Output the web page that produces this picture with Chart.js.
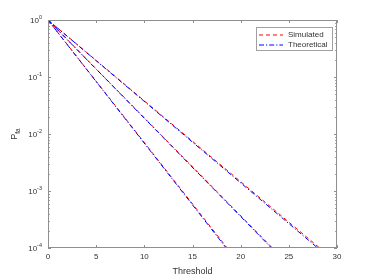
<!DOCTYPE html>
<html>
<head>
<meta charset="utf-8">
<script src="https://cdn.jsdelivr.net/npm/chart.js@4.4.0/dist/chart.umd.min.js"></script>
<style>
  html, body { margin: 0; padding: 0; background: #fff; }
  #wrap { width: 374px; height: 280px; position: relative; }
</style>
</head>
<body>
<div id="wrap"><canvas id="pfaChart"></canvas></div>
<script>
// values: each line runs from (0, 1) down to 1e-4
const startX = 0;
const startP = 1;
const endP = 1e-4;
const theoEndX = [18.5, 23.2, 28.0];
const simEndX = [18.6, 23.3, 28.2];

const xTicks = [0, 5, 10, 15, 20, 25, 30];
const yTicks = [1, 1e-1, 1e-2, 1e-3, 1e-4];
const yExps = ['0', '-1', '-2', '-3', '-4'];

const axisColor = '#8f8f8f';
const textColor = '#333333';
const FONT = 'Liberation Sans, Arial, Helvetica, sans-serif';

let datasets = [];
// theoretical first so it sits on top of the simulated curves
theoEndX.forEach(function (x1, i) {
  datasets.push({
    label: i === 0 ? 'Theoretical' : '',
    data: [{ x: startX, y: startP }, { x: x1, y: endP }],
    borderColor: '#0000ff',
    borderWidth: 1,
    borderDash: [5, 2, 1.2, 2],
    pointRadius: 0,
    fill: false
  });
});
simEndX.forEach(function (x1, i) {
  datasets.push({
    label: i === 0 ? 'Simulated' : '',
    data: [{ x: startX, y: startP }, { x: x1, y: endP }],
    borderColor: '#ff0000',
    borderWidth: 1,
    borderDash: [4, 3],
    pointRadius: 0,
    fill: false
  });
});

// draws the matlab style box, inward ticks, labels and legend
const matlabAxes = {
  id: 'matlabAxes',
  afterDraw(chart) {
    const ctx = chart.ctx;
    const a = chart.chartArea;
    const xs = chart.scales.x;
    const ys = chart.scales.y;
    ctx.save();

    ctx.strokeStyle = axisColor;
    ctx.lineWidth = 1;
    ctx.strokeRect(a.left + 0.5, a.top + 0.5, a.right - a.left - 1, a.bottom - a.top - 1);

    // x ticks
    ctx.beginPath();
    xTicks.forEach(function (v) {
      const px = Math.round(xs.getPixelForValue(v)) + 0.5;
      ctx.moveTo(px, a.bottom); ctx.lineTo(px, a.bottom - 3);
      ctx.moveTo(px, a.top); ctx.lineTo(px, a.top + 3);
    });
    // y ticks, major and minor
    yTicks.forEach(function (v, i) {
      const py = Math.round(ys.getPixelForValue(v)) + 0.5;
      ctx.moveTo(a.left, py); ctx.lineTo(a.left + 3, py);
      ctx.moveTo(a.right, py); ctx.lineTo(a.right - 3, py);
      if (i < yTicks.length - 1) {
        for (let m = 2; m <= 9; m++) {
          const my = Math.round(ys.getPixelForValue(v / 10 * m)) + 0.5;
          ctx.moveTo(a.left, my); ctx.lineTo(a.left + 1.8, my);
          ctx.moveTo(a.right, my); ctx.lineTo(a.right - 1.8, my);
        }
      }
    });
    ctx.stroke();

    ctx.fillStyle = textColor;
    ctx.font = '8px ' + FONT;
    ctx.textAlign = 'center';
    ctx.textBaseline = 'middle';
    xTicks.forEach(function (v) {
      ctx.fillText(String(v), xs.getPixelForValue(v), a.bottom + 9);
    });

    // y tick labels 10^k
    yTicks.forEach(function (v, i) {
      const py = ys.getPixelForValue(v);
      ctx.font = '5.5px ' + FONT;
      const ew = ctx.measureText(yExps[i]).width;
      ctx.textAlign = 'left';
      ctx.textBaseline = 'middle';
      ctx.fillText(yExps[i], a.left - 6 - ew, py - 3);
      ctx.font = '8px ' + FONT;
      ctx.textAlign = 'right';
      ctx.fillText('10', a.left - 6 - ew, py + 1);
    });

    // axis titles
    ctx.font = '9px ' + FONT;
    ctx.textAlign = 'center';
    ctx.textBaseline = 'middle';
    ctx.fillText('Threshold', (a.left + a.right) / 2, 272);

    ctx.save();
    ctx.translate(15, (a.top + a.bottom) / 2);
    ctx.rotate(-Math.PI / 2);
    ctx.font = '9px ' + FONT;
    ctx.textAlign = 'left';
    const pw = ctx.measureText('P').width;
    ctx.font = '6.5px ' + FONT;
    const sw = ctx.measureText('fa').width;
    const x0 = -(pw + sw) / 2;
    ctx.font = '9px ' + FONT;
    ctx.fillText('P', x0, 0);
    ctx.font = '6.5px ' + FONT;
    ctx.fillText('fa', x0 + pw, 3);
    ctx.restore();

    // legend
    const lx = 256, ly = 27, lw = 76, lh = 23;
    ctx.fillStyle = '#ffffff';
    ctx.fillRect(lx, ly, lw, lh);
    ctx.strokeStyle = '#a0a0a0';
    ctx.lineWidth = 1;
    ctx.strokeRect(lx + 0.5, ly + 0.5, lw, lh);
    const items = [
      { text: 'Simulated', color: '#ff0000', dash: [4, 3], y: ly + 7.5 },
      { text: 'Theoretical', color: '#0000ff', dash: [5, 2, 1.2, 2], y: ly + 17.5 }
    ];
    items.forEach(function (it) {
      ctx.strokeStyle = it.color;
      ctx.setLineDash(it.dash);
      ctx.beginPath();
      ctx.moveTo(lx + 3, it.y + 0.5);
      ctx.lineTo(lx + 27, it.y + 0.5);
      ctx.stroke();
      ctx.setLineDash([]);
      ctx.fillStyle = textColor;
      ctx.font = '8px ' + FONT;
      ctx.textAlign = 'left';
      ctx.textBaseline = 'middle';
      ctx.fillText(it.text, lx + 32, it.y + 0.5);
    });
    ctx.restore();
  }
};

const ctx = document.getElementById('pfaChart').getContext('2d');
const myChart = new Chart(ctx, {
  type: 'line',
  data: { datasets: datasets },
  options: {
    responsive: true,
    maintainAspectRatio: false,
    animation: false,
    layout: { padding: { left: 48, right: 37, top: 20, bottom: 32 } },
    plugins: { legend: { display: false }, tooltip: { enabled: false } },
    scales: {
      x: { type: 'linear', min: 0, max: 30, display: false },
      y: { type: 'logarithmic', min: 1e-4, max: 1, display: false }
    }
  },
  plugins: [matlabAxes]
});
</script>
</body>
</html>
